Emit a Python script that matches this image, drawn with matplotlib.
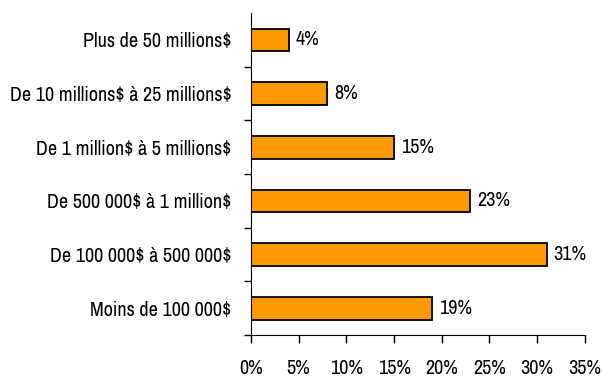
import matplotlib
matplotlib.use("Agg")
import matplotlib.pyplot as plt
from matplotlib.ticker import FixedLocator

categories = ["Moins de 100 000$", "De 100 000$ à 500 000$", "De 500 000$ à 1 million$",
              "De 1 million$ à 5 millions$", "De 10 millions$ à 25 millions$", "Plus de 50 millions$"]
values = [19, 31, 23, 15, 8, 4]
xticks = [0, 5, 10, 15, 20, 25, 30, 35]

plt.rcParams['text.parse_math'] = False
plt.rcParams['font.family'] = ['Liberation Sans Narrow', 'Archivo Narrow', 'DejaVu Sans']
fs = 14.5

fig = plt.figure(figsize=(6.03, 3.83), dpi=100)
ax = fig.add_axes([0.416, 0.125, 0.554, 0.841])

pos = list(range(len(categories)))
ax.barh(pos, values, height=0.42, color="#FF9900", edgecolor="black", linewidth=1.3)
for y, v in zip(pos, values):
    ax.text(v + 0.7, y, f"{v}%", va="center", ha="left", fontsize=fs)

ax.set_xlim(0, 35)
ax.set_ylim(-0.5, len(categories) - 0.5)
ax.set_xticks(xticks)
ax.set_xticklabels([f"{t}%" for t in xticks], fontsize=fs)
ax.set_yticks(pos)
ax.set_yticklabels(categories, fontsize=fs)
# ticks on the y axis sit between the categories
ax.yaxis.set_minor_locator(FixedLocator([p + 0.5 for p in pos[:-1]] + [-0.5]))
ax.tick_params(axis="y", which="major", length=0, pad=14)
ax.tick_params(axis="y", which="minor", length=5, width=1, direction="out")
ax.tick_params(axis="x", length=6, width=1, direction="out", pad=11)

for s in ["top", "right"]:
    ax.spines[s].set_visible(False)

fig.savefig("out.png", dpi=100)
